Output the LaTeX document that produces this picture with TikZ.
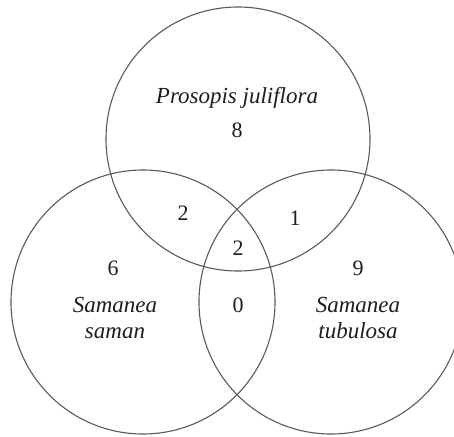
\documentclass[tikz,border=0pt]{standalone}
\usepackage{fontspec}
\setmainfont{Liberation Serif}
\definecolor{edge}{HTML}{5A5A5A}
\definecolor{ink}{HTML}{1E1E1E}
\tikzset{
  vset/.style={circle, draw=edge, line width=1.1pt, minimum size=264pt, inner sep=0pt},
  lbl/.style={text=ink, font=\fontsize{23}{26}\selectfont, inner sep=0pt, align=center},
  num/.style={text=ink, font=\fontsize{22}{26}\selectfont, inner sep=0pt}
}
\begin{document}
\begin{tikzpicture}[x=1pt,y=-1pt]
\useasboundingbox (0,0) rectangle (454,436);
\clip (0,0) rectangle (454,436);
\fill[white] (0,0) rectangle (454,436);
\node[vset] (P) at (238,139) {};
\node[vset] (L) at (143,302) {};
\node[vset] (R) at (331,302) {};
\node[lbl] (pname) at (237,98) {\itshape Prosopis juliflora};
\node[num] (n8) at (237,130) {8};
\node[num] (n2a) at (183,213) {2};
\node[num] (n1) at (295,218) {1};
\node[num] (n2b) at (238,248) {2};
\node[num] (n6) at (113,268) {6};
\node[num] (n0) at (238,305) {0};
\node[num] (n9) at (358,268) {9};
\node[lbl] (lname) at (115,318) {\itshape Samanea\\\itshape saman};
\node[lbl] (rname) at (358,318) {\itshape Samanea\\\itshape tubulosa};
\end{tikzpicture}
\end{document}
